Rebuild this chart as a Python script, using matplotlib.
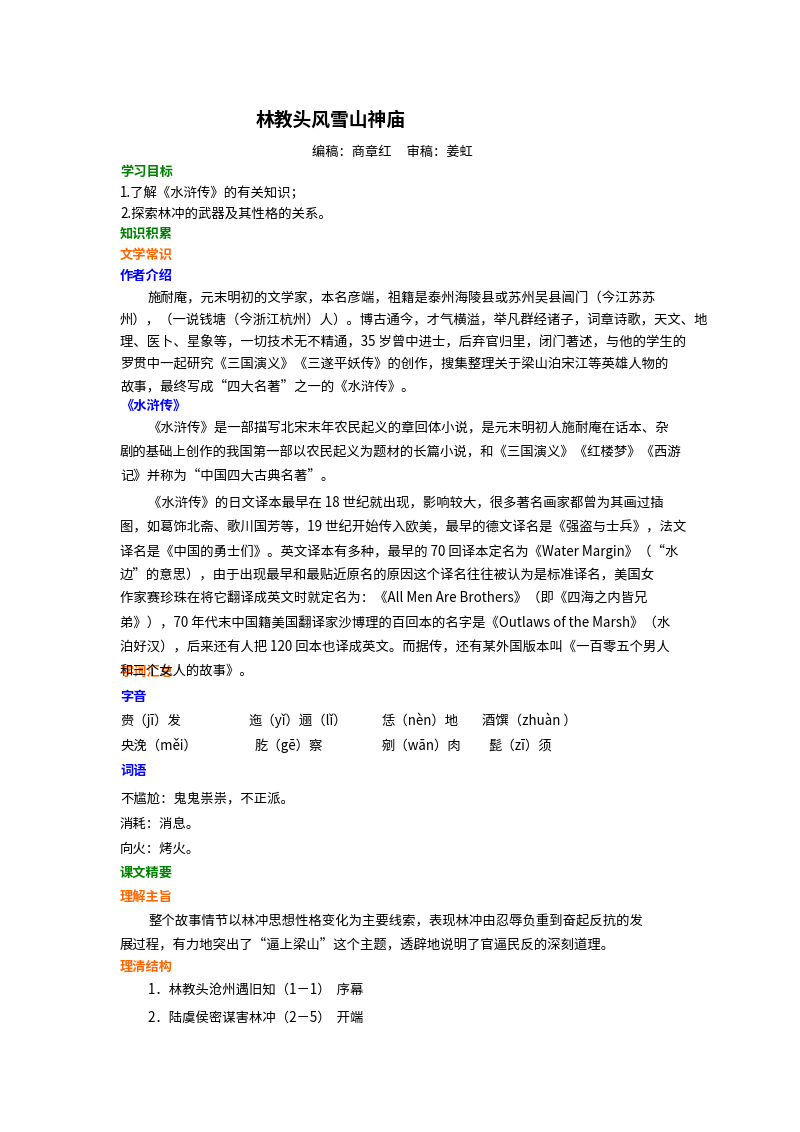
import matplotlib
matplotlib.use('Agg')
import matplotlib.pyplot as plt

plt.rcParams['font.family'] = ['Noto Sans CJK SC', 'DejaVu Sans']

W, H = 800, 1132
GREEN, ORANGE, BLUE = '#008000', '#ff6600', '#0000ff'

title = '林教头风雪山神庙'
byline = '编稿：商章红     审稿：姜虹'

headings = [
    ('学习目标', GREEN, 172), ('知识积累', GREEN, 234), ('文学常识', ORANGE, 255),
    ('作者介绍', BLUE, 276), ('《水浒传》', BLUE, 406), ('字词汇总', ORANGE, 672),
    ('字音', BLUE, 697), ('词语', BLUE, 771), ('课文精要', GREEN, 873),
    ('理解主旨', ORANGE, 897), ('理清结构', ORANGE, 967),
]

body_lines = [
    ('1.了解《水浒传》的有关知识；', 120, 193),
    ('2.探索林冲的武器及其性格的关系。', 120, 214),
    ('施耐庵，元末明初的文学家，本名彦端，祖籍是泰州海陵县或苏州吴县阊门（今江苏苏', 148, 298),
    ('州），（一说钱塘（今浙江杭州）人）。博古通今，才气横溢，举凡群经诸子，词章诗歌，天文、地', 120, 320),
    ('理、医卜、星象等，一切技术无不精通，35 岁曾中进士，后弃官归里，闭门著述，与他的学生的', 120, 342),
    ('罗贯中一起研究《三国演义》《三遂平妖传》的创作，搜集整理关于梁山泊宋江等英雄人物的', 120, 364),
    ('故事，最终写成“四大名著”之一的《水浒传》。', 120, 386),
    ('《水浒传》是一部描写北宋末年农民起义的章回体小说，是元末明初人施耐庵在话本、杂', 148, 428),
    ('剧的基础上创作的我国第一部以农民起义为题材的长篇小说，和《三国演义》《红楼梦》《西游', 120, 452),
    ('记》并称为“中国四大古典名著”。', 120, 476),
    ('《水浒传》的日文译本最早在 18 世纪就出现，影响较大，很多著名画家都曾为其画过插', 148, 503),
    ('图，如葛饰北斋、歌川国芳等，19 世纪开始传入欧美，最早的德文译名是《强盗与士兵》，法文', 120, 527),
    ('译名是《中国的勇士们》。英文译本有多种，最早的 70 回译本定名为《Water Margin》（“水', 120, 551),
    ('边”的意思），由于出现最早和最贴近原名的原因这个译名往往被认为是标准译名，美国女', 120, 575),
    ('作家赛珍珠在将它翻译成英文时就定名为：《All Men Are Brothers》（即《四海之内皆兄', 120, 599),
    ('弟》），70 年代末中国籍美国翻译家沙博理的百回本的名字是《Outlaws of the Marsh》（水', 120, 623),
    ('泊好汉），后来还有人把 120 回本也译成英文。而据传，还有某外国版本叫《一百零五个男人', 120, 647),
    ('和三个女人的故事》。', 120, 651 + 0),
    ('赍（jī）发', 120, 721), ('迤（yǐ）逦（lǐ）', 248, 721), ('恁（nèn）地', 382, 721), ('酒馔（zhuàn ）', 482, 721),
    ('央浼（měi）', 120, 746), ('肐（gē）察', 255, 746), ('剜（wān）肉', 382, 746), ('髭（zī）须', 488, 746),
    ('不尴尬：鬼鬼祟祟，不正派。', 120, 798),
    ('消耗：消息。', 120, 824),
    ('向火：烤火。', 120, 849),
    ('整个故事情节以林冲思想性格变化为主要线索，表现林冲由忍辱负重到奋起反抗的发', 148, 921),
    ('展过程，有力地突出了“逼上梁山”这个主题，透辟地说明了官逼民反的深刻道理。', 120, 944),
    ('1．林教头沧州遇旧知（1－1）  序幕', 148, 991),
    ('2．陆虞侯密谋害林冲（2－5）  开端', 148, 1018),
]
body_lines[17] = ('和三个女人的故事》。', 120, 671)

fig = plt.figure(figsize=(W / 100, H / 100), dpi=100)
fig.patch.set_facecolor('white')


def put(x, y, s, **kw):
    fig.text(x / W, 1 - y / H, s, va='center', ha='left', **kw)


put(256, 120, title, fontsize=13.5, fontweight='bold', color='black')
put(312, 152, byline, fontsize=9.5, color='black')
for text, col, y in headings:
    put(120, y, text, fontsize=9.5, fontweight='bold', color=col)
for text, x, y in body_lines:
    put(x, y, text, fontsize=9.6, color='black')

fig.savefig('out.png', dpi=100, facecolor='white')
